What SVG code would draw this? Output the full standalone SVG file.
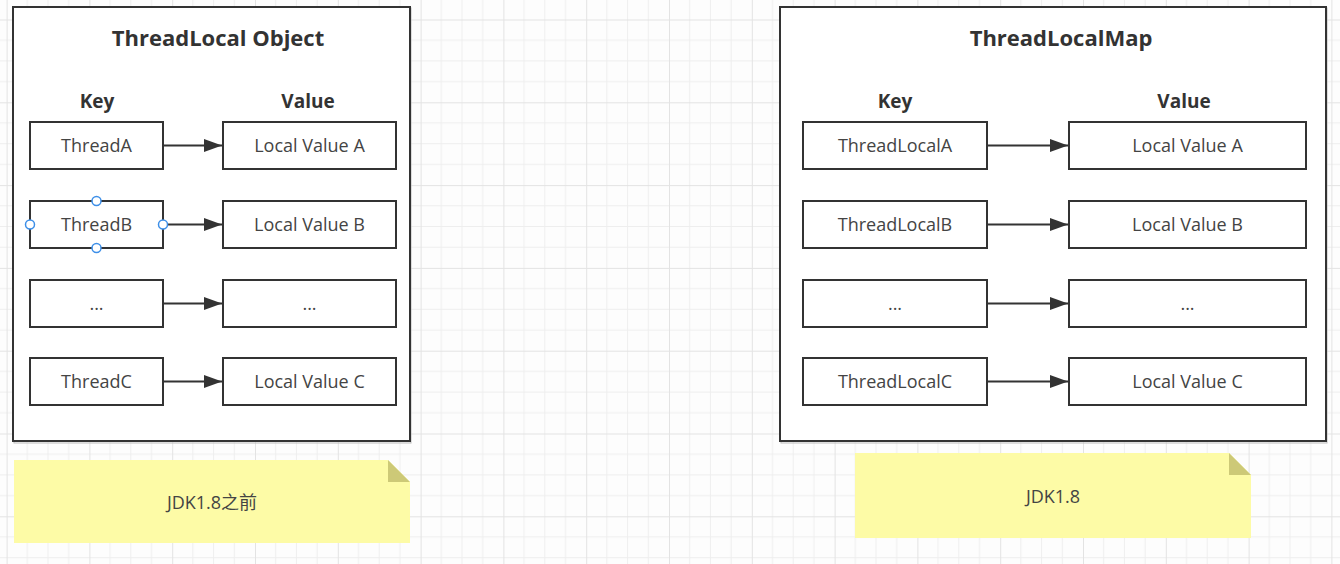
<svg xmlns="http://www.w3.org/2000/svg" width="1340" height="564" viewBox="0 0 1340 564">
  <defs>
    <pattern id="grid" patternUnits="userSpaceOnUse" x="6.6" y="19.5" width="82.8" height="82.8">
      <path d="M20.7 0V82.8M41.4 0V82.8M62.1 0V82.8M0 20.7H82.8M0 41.4H82.8M0 62.1H82.8" stroke="#eeeeee" stroke-width="1" fill="none"/>
      <path d="M0 0V82.8M0 0H82.8" stroke="#e3e3e3" stroke-width="2" fill="none"/>
    </pattern>
    <marker id="arrow" viewBox="0 0 18 13" refX="18" refY="6.5" markerWidth="18" markerHeight="13" markerUnits="userSpaceOnUse" orient="auto">
      <path d="M0 0L18 6.5L0 13Z" fill="#333333"/>
    </marker>
    <style>
      .container { fill: #ffffff; stroke: #333333; stroke-width: 2; }
      .shadow { fill: none; stroke: #bbbbbb; stroke-width: 1; }
      .box { fill: #ffffff; stroke: #333333; stroke-width: 2; }
      .title { font-family: "Open Sans", "Noto Sans", "Noto Sans CJK SC", sans-serif; font-weight: bold; font-size: 22px; fill: #333333; text-anchor: middle; }
      .head { font-family: "Open Sans", "Noto Sans", "Noto Sans CJK SC", sans-serif; font-weight: bold; font-size: 19px; fill: #333333; text-anchor: middle; }
      .label { font-family: "Open Sans", "Noto Sans", "Noto Sans CJK SC", sans-serif; font-size: 18px; fill: #444444; text-anchor: middle; }
      .note { fill: #fdfba6; }
      .fold { fill: #cdc977; }
      .conn { stroke: #333333; stroke-width: 2; fill: none; marker-end: url(#arrow); }
      .handle { fill: #ffffff; stroke: #3d8fe8; stroke-width: 1.5; }
    </style>
  </defs>

  <rect x="0" y="0" width="1340" height="564" fill="#fdfdfd"/>
  <rect x="0" y="0" width="1340" height="564" fill="url(#grid)"/>

  <!-- Left container -->
  <g id="left-container">
    <rect class="shadow" x="14" y="8" width="397" height="435"/>
    <rect class="container" x="13" y="7" width="397" height="434"/>
    <text class="title" x="218" y="46">ThreadLocal Object</text>
    <text class="head" x="97" y="108">Key</text>
    <text class="head" x="308" y="108">Value</text>
  </g>

  <g id="threadA"><rect class="box" x="30" y="122" width="133" height="47"/><text class="label" x="96.5" y="152">ThreadA</text></g>
  <g id="valueA-left"><rect class="box" x="223" y="122" width="173" height="47"/><text class="label" x="309.5" y="152">Local Value A</text></g>
  <g id="threadB"><rect class="box" x="30" y="201" width="133" height="47"/><text class="label" x="96.5" y="231">ThreadB</text></g>
  <g id="valueB-left"><rect class="box" x="223" y="201" width="173" height="47"/><text class="label" x="309.5" y="231">Local Value B</text></g>
  <g id="threadDots"><rect class="box" x="30" y="280" width="133" height="47"/><text class="label" x="96.5" y="310">...</text></g>
  <g id="valueDots-left"><rect class="box" x="223" y="280" width="173" height="47"/><text class="label" x="309.5" y="310">...</text></g>
  <g id="threadC"><rect class="box" x="30" y="358" width="133" height="47"/><text class="label" x="96.5" y="388">ThreadC</text></g>
  <g id="valueC-left"><rect class="box" x="223" y="358" width="173" height="47"/><text class="label" x="309.5" y="388">Local Value C</text></g>

  <!-- Right container -->
  <g id="right-container">
    <rect class="shadow" x="781" y="8" width="546" height="435"/>
    <rect class="container" x="780" y="7" width="546" height="434"/>
    <text class="title" x="1061" y="46">ThreadLocalMap</text>
    <text class="head" x="895" y="108">Key</text>
    <text class="head" x="1184" y="108">Value</text>
  </g>

  <g id="threadLocalA"><rect class="box" x="803" y="122" width="184" height="47"/><text class="label" x="895" y="152">ThreadLocalA</text></g>
  <g id="valueA-right"><rect class="box" x="1069" y="122" width="237" height="47"/><text class="label" x="1187.5" y="152">Local Value A</text></g>
  <g id="threadLocalB"><rect class="box" x="803" y="201" width="184" height="47"/><text class="label" x="895" y="231">ThreadLocalB</text></g>
  <g id="valueB-right"><rect class="box" x="1069" y="201" width="237" height="47"/><text class="label" x="1187.5" y="231">Local Value B</text></g>
  <g id="threadLocalDots"><rect class="box" x="803" y="280" width="184" height="47"/><text class="label" x="895" y="310">...</text></g>
  <g id="valueDots-right"><rect class="box" x="1069" y="280" width="237" height="47"/><text class="label" x="1187.5" y="310">...</text></g>
  <g id="threadLocalC"><rect class="box" x="803" y="358" width="184" height="47"/><text class="label" x="895" y="388">ThreadLocalC</text></g>
  <g id="valueC-right"><rect class="box" x="1069" y="358" width="237" height="47"/><text class="label" x="1187.5" y="388">Local Value C</text></g>

  <!-- Connectors -->
  <g id="connectors">
    <line class="conn" x1="163" y1="145.5" x2="222" y2="145.5"/>
    <line class="conn" x1="163" y1="224.5" x2="222" y2="224.5"/>
    <line class="conn" x1="163" y1="303.5" x2="222" y2="303.5"/>
    <line class="conn" x1="163" y1="381.5" x2="222" y2="381.5"/>
    <line class="conn" x1="987" y1="145.5" x2="1068" y2="145.5"/>
    <line class="conn" x1="987" y1="224.5" x2="1068" y2="224.5"/>
    <line class="conn" x1="987" y1="303.5" x2="1068" y2="303.5"/>
    <line class="conn" x1="987" y1="381.5" x2="1068" y2="381.5"/>
  </g>

  <!-- Selection handles on ThreadB -->
  <g id="threadB-handles">
    <circle class="handle" cx="96.5" cy="201" r="4.5"/>
    <circle class="handle" cx="96.5" cy="248" r="4.5"/>
    <circle class="handle" cx="30" cy="224.5" r="4.5"/>
    <circle class="handle" cx="163" cy="224.5" r="4.5"/>
  </g>

  <!-- Notes -->
  <g id="note-left">
    <path class="note" d="M14 460H388L410 482V543H14Z"/>
    <path class="fold" d="M388 460L410 482H388Z"/>
    <text class="label" x="212" y="509">JDK1.8之前</text>
  </g>
  <g id="note-right">
    <path class="note" d="M855 453H1229L1251 475V538H855Z"/>
    <path class="fold" d="M1229 453L1251 475H1229Z"/>
    <text class="label" x="1053" y="503">JDK1.8</text>
  </g>
</svg>
